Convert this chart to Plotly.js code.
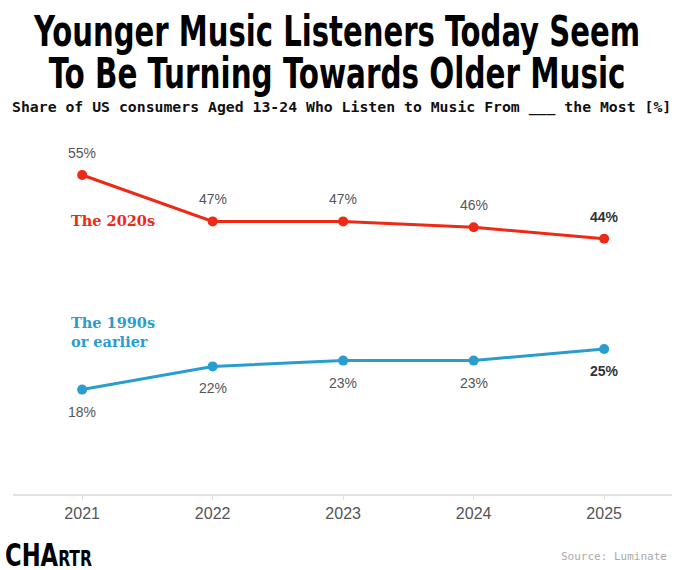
<!DOCTYPE html>
<html>
<head>
<meta charset="utf-8">
<script src="https://cdn.plot.ly/plotly-3.0.1.min.js"></script>
<style>
  body { margin: 0; background: #fff; }
  #chart { width: 680px; height: 570px; }
</style>
</head>
<body>
<div id="chart"></div>
<script>
// values
const years = [2021, 2022, 2023, 2024, 2025];
const share2020s = [55, 47, 47, 46, 44];
const share1990s = [18, 22, 23, 23, 25];

const RED = '#ee2a16';
const BLUE = '#2a9dcf';
const NARROW = 'DejaVu Sans Condensed, Liberation Sans Narrow, sans-serif';

function labelsFor(xs, ys, shift) {
    return xs.map((x, i) => {
        const last = i === xs.length - 1;
        return {
            x: x, y: ys[i], xref: 'x', yref: 'y',
            text: last ? '<b>' + ys[i] + '%</b>' : ys[i] + '%',
            showarrow: false, yshift: shift,
            font: { family: 'Liberation Sans, Arial, sans-serif', size: 14, color: last ? '#333' : '#555' }
        };
    });
}

const traces = [
    {
        x: years, y: share2020s, type: 'scatter', mode: 'lines+markers',
        line: { color: RED, width: 3 }, marker: { color: RED, size: 10 },
        hoverinfo: 'skip'
    },
    {
        x: years, y: share1990s, type: 'scatter', mode: 'lines+markers',
        line: { color: BLUE, width: 3 }, marker: { color: BLUE, size: 10 },
        hoverinfo: 'skip'
    }
];

const annotations = labelsFor(years, share2020s, 22)
    .concat(labelsFor(years, share1990s, -22))
    .concat([
        {
            x: 2020.9, y: 47.2, xref: 'x', yref: 'y', xanchor: 'left', yanchor: 'middle',
            text: '<b>The 2020s</b>', showarrow: false,
            font: { family: 'DejaVu Serif, Liberation Serif, serif', size: 14.5, color: RED }
        },
        {
            x: 2020.9, y: 27.9, xref: 'x', yref: 'y', xanchor: 'left', yanchor: 'middle', align: 'left',
            text: '<b>The 1990s<br>or earlier</b>', showarrow: false,
            font: { family: 'DejaVu Serif, Liberation Serif, serif', size: 14.5, color: BLUE }
        },
        {
            x: 0.5, y: 1, xref: 'paper', yref: 'paper', yanchor: 'middle', yshift: 115, xshift: -6,
            text: '<b>Younger Music Listeners Today Seem</b>', showarrow: false,
            font: { family: NARROW, size: 42, color: '#000' }
        },
        {
            x: 0.5, y: 1, xref: 'paper', yref: 'paper', yanchor: 'middle', yshift: 73, xshift: -6,
            text: '<b>To Be Turning Towards Older Music</b>', showarrow: false,
            font: { family: NARROW, size: 42, color: '#000' }
        },
        {
            x: 0.5, y: 1, xref: 'paper', yref: 'paper', yanchor: 'middle', yshift: 39,
            xshift: -1,
            text: '<b>Share of US consumers Aged 13-24 Who Listen to Music From ___ the Most [%]</b>',
            showarrow: false,
            font: { family: 'DejaVu Sans Mono, Liberation Mono, monospace', size: 14.8, color: '#111' }
        },
        {
            x: 0, y: 0, xref: 'paper', yref: 'paper', xanchor: 'left', yanchor: 'middle',
            xshift: -10, yshift: -61,
            text: '<b>CHA<span style="font-size:22px">RTR</span></b>',
            showarrow: false,
            font: { family: NARROW, size: 32, color: '#000' }
        },
        {
            x: 1, y: 0, xref: 'paper', yref: 'paper', xanchor: 'right', yanchor: 'middle',
            xshift: -3, yshift: -62,
            text: 'Source: Luminate', showarrow: false,
            font: { family: 'DejaVu Sans Mono, Liberation Mono, monospace', size: 11, color: '#aaa' }
        }
    ]);

const layout = {
    width: 680, height: 570,
    margin: { l: 13, r: 8, t: 146, b: 76 },
    paper_bgcolor: '#fff', plot_bgcolor: '#fff',
    showlegend: false,
    xaxis: {
        range: [2020.47, 2025.52],
        tickvals: years, ticktext: years.map(String),
        showgrid: false, zeroline: false,
        showline: true, linecolor: '#e2e2e2', linewidth: 1.5,
        ticks: 'outside', ticklen: 4, tickcolor: '#e2e2e2',
        tickfont: { family: 'Liberation Sans, Arial, sans-serif', size: 16, color: '#555' }
    },
    yaxis: {
        range: [0, 60], visible: false, showgrid: false, zeroline: false, fixedrange: true
    },
    annotations: annotations
};

// squeeze the heavy headline text sideways to mimic the condensed display face
// (keeps the anchor point fixed: centre for the headline, left edge for the logo)
function squeeze(match, width, keepLeft) {
    document.querySelectorAll('#chart .annotation-text').forEach(el => {
        if (!el.textContent.startsWith(match)) return;
        const box = el.getBBox();
        const s = width / box.width;
        const ax = keepLeft ? box.x : box.x + box.width / 2;
        el.setAttribute('transform',
            'translate(' + ax + ',0) scale(' + s + ',1) translate(' + (-ax) + ',0)');
    });
}

Plotly.newPlot('chart', traces, layout, { displayModeBar: false, staticPlot: true }).then(() => {
    squeeze('Younger', 607, false);
    squeeze('To Be', 577, false);
    squeeze('CHA', 87, true);
});
</script>
</body>
</html>
